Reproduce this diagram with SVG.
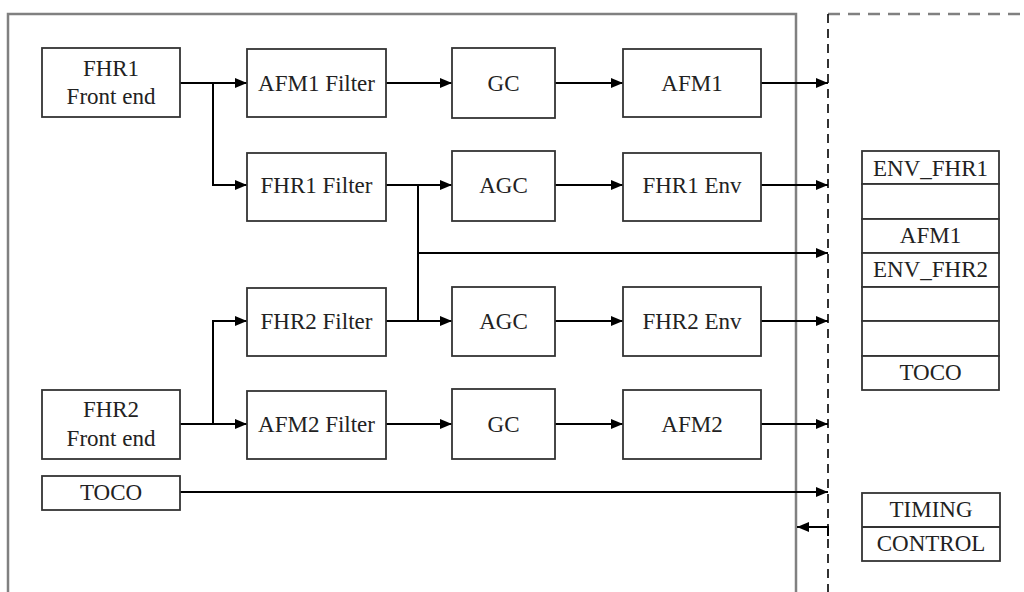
<svg xmlns="http://www.w3.org/2000/svg" width="1024" height="592" viewBox="0 0 1024 592">
<style>
.b{fill:#fff;stroke:#333;stroke-width:1.8}
text{font-family:'Liberation Serif','Times New Roman',Times,serif;font-size:23px;fill:#222;text-anchor:middle}
.c{fill:none;stroke:#000;stroke-width:2}
</style>
<defs>
<marker id="ah" viewBox="0 0 12 10" refX="12" refY="5" markerWidth="12" markerHeight="10" markerUnits="userSpaceOnUse" orient="auto">
<path d="M0,0 L12,5 L0,10 Z" fill="#000"/>
</marker>
</defs>
<rect width="1024" height="592" fill="#fff"/>
<g id="frame">
<path d="M8,592 V14 H796 V592" fill="none" stroke="#808080" stroke-width="2.5"/>
<path d="M828,14 H1024" fill="none" stroke="#808080" stroke-width="2.5" stroke-dasharray="12,8"/>
<path d="M828,14 V592" fill="none" stroke="#000" stroke-width="1.6" stroke-dasharray="9,6"/>
</g>
<g id="connectors">
<path class="c" d="M180,83 H247" marker-end="url(#ah)"/>
<path class="c" d="M213,83 V185 H247" marker-end="url(#ah)"/>
<path class="c" d="M386,83 H452" marker-end="url(#ah)"/>
<path class="c" d="M555,83 H623" marker-end="url(#ah)"/>
<path class="c" d="M761,83 H828" marker-end="url(#ah)"/>
<path class="c" d="M386,185 H452" marker-end="url(#ah)"/>
<path class="c" d="M418,185 V321"/>
<path class="c" d="M418,253 H828" marker-end="url(#ah)"/>
<path class="c" d="M555,185 H623" marker-end="url(#ah)"/>
<path class="c" d="M761,185 H828" marker-end="url(#ah)"/>
<path class="c" d="M180,424 H247" marker-end="url(#ah)"/>
<path class="c" d="M213,424 V321 H247" marker-end="url(#ah)"/>
<path class="c" d="M386,321 H452" marker-end="url(#ah)"/>
<path class="c" d="M555,321 H623" marker-end="url(#ah)"/>
<path class="c" d="M761,321 H828" marker-end="url(#ah)"/>
<path class="c" d="M386,424 H452" marker-end="url(#ah)"/>
<path class="c" d="M555,424 H623" marker-end="url(#ah)"/>
<path class="c" d="M761,424 H828" marker-end="url(#ah)"/>
<path class="c" d="M180,492 H828" marker-end="url(#ah)"/>
<path class="c" d="M828,536 V527 H797" marker-end="url(#ah)"/>
</g>
<g id="fhr1-front-end"><rect class="b" x="42" y="48" width="138" height="69"/><text x="111" y="76">FHR1</text><text x="111" y="104">Front end</text></g>
<g id="afm1-filter"><rect class="b" x="247" y="49" width="139" height="68"/><text x="316.5" y="91">AFM1 Filter</text></g>
<g id="gc1"><rect class="b" x="452" y="48" width="103" height="70"/><text x="503.5" y="91">GC</text></g>
<g id="afm1"><rect class="b" x="623" y="49" width="138" height="68"/><text x="692" y="91">AFM1</text></g>
<g id="fhr1-filter"><rect class="b" x="247" y="153" width="139" height="68"/><text x="316.5" y="193">FHR1 Filter</text></g>
<g id="agc1"><rect class="b" x="452" y="151" width="103" height="70"/><text x="503.5" y="193">AGC</text></g>
<g id="fhr1-env"><rect class="b" x="623" y="153" width="138" height="68"/><text x="692" y="193">FHR1 Env</text></g>
<g id="fhr2-filter"><rect class="b" x="247" y="288" width="139" height="68"/><text x="316.5" y="329">FHR2 Filter</text></g>
<g id="agc2"><rect class="b" x="452" y="287" width="103" height="69"/><text x="503.5" y="329">AGC</text></g>
<g id="fhr2-env"><rect class="b" x="623" y="287" width="138" height="69"/><text x="692" y="329">FHR2 Env</text></g>
<g id="fhr2-front-end"><rect class="b" x="42" y="390" width="138" height="69"/><text x="111" y="417">FHR2</text><text x="111" y="446">Front end</text></g>
<g id="afm2-filter"><rect class="b" x="247" y="391" width="139" height="68"/><text x="316.5" y="432">AFM2 Filter</text></g>
<g id="gc2"><rect class="b" x="452" y="389" width="103" height="70"/><text x="503.5" y="432">GC</text></g>
<g id="afm2"><rect class="b" x="623" y="390" width="138" height="69"/><text x="692" y="432">AFM2</text></g>
<g id="toco-in"><rect class="b" x="42" y="476" width="138" height="34"/><text x="111" y="500">TOCO</text></g>
<g id="output-stack">
<rect class="b" x="862" y="151" width="137" height="33"/><text x="930.5" y="176">ENV_FHR1</text>
<rect class="b" x="862" y="184" width="137" height="35"/>
<rect class="b" x="862" y="219" width="137" height="34"/><text x="930.5" y="243">AFM1</text>
<rect class="b" x="862" y="253" width="137" height="34"/><text x="930.5" y="277">ENV_FHR2</text>
<rect class="b" x="862" y="287" width="137" height="34"/>
<rect class="b" x="862" y="321" width="137" height="35"/>
<rect class="b" x="862" y="356" width="137" height="34"/><text x="930.5" y="380">TOCO</text>
</g>
<g id="timing-control">
<rect class="b" x="862" y="493" width="138" height="68"/>
<line x1="862" y1="527" x2="1000" y2="527" stroke="#333" stroke-width="1.8"/>
<text x="931" y="517">TIMING</text><text x="931" y="551">CONTROL</text>
</g>
</svg>
